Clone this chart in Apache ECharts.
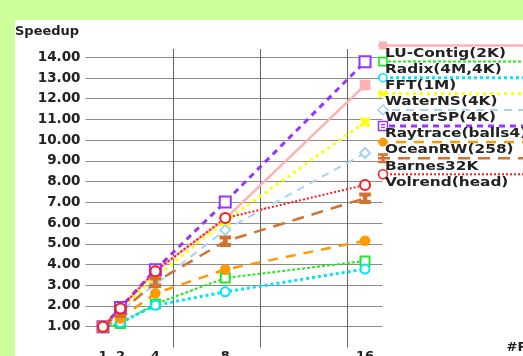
<!DOCTYPE html>
<html>
<head>
<meta charset="utf-8">
<script src="https://cdn.jsdelivr.net/npm/echarts@6/dist/echarts.min.js"></script>
<style>
  html, body { margin: 0; padding: 0; width: 523px; height: 356px; background: #ccff99; overflow: hidden; }
  #chart { position: absolute; left: 15px; top: 20px; width: 508px; height: 336px; background: #ffffff; }
</style>
</head>
<body>
<div id="chart"></div>
<script>
// Processor counts (x positions on a linear scale) and speedup per application
const processors = [1, 2, 4, 8, 16];
const xTickLabels = [1, 2, 4, 8, 16];

const seriesNames = [
  'LU-Contig(2K)', 'Radix(4M,4K)', 'FFT(1M)', 'WaterNS(4K)', 'WaterSP(4K)',
  'Raytrace(balls4)', 'OceanRW(258)', 'Barnes32K', 'Volrend(head)'
];

const luContig = [1.00, 1.92, 3.70, 6.20, 12.66];
const radix    = [0.95, 1.15, 2.10, 3.35, 4.17];
const fft      = [1.00, 1.20, 2.03, 2.68, 3.78];
const waterNS  = [1.00, 1.85, 3.40, 6.10, 10.87];
const waterSP  = [1.00, 1.75, 3.05, 5.67, 9.38];
const raytrace = [1.00, 1.92, 3.75, 7.02, 13.78];
const oceanRW  = [1.00, 1.40, 2.61, 3.76, 5.15];
const barnes   = [1.00, 1.70, 3.15, 5.12, 7.20];
const volrend  = [1.00, 1.88, 3.68, 6.24, 7.84];

const seriesValues = [luContig, radix, fft, waterNS, waterSP, raytrace, oceanRW, barnes, volrend];

// Marker shapes
const X_PTS = [[0,1.5],[1.5,0],[5,3.5],[8.5,0],[10,1.5],[6.5,5],[10,8.5],[8.5,10],[5,6.5],[1.5,10],[0,8.5],[3.5,5]];
const I_PTS = [[0,0],[10,0],[10,2.5],[6.5,2.5],[6.5,7.5],[10,7.5],[10,10],[0,10],[0,7.5],[3.5,7.5],[3.5,2.5],[0,2.5]];
const toPath = pts => 'path://M' + pts.map(p => p.join(',')).join('L') + 'Z';
const X_MARK = toPath(X_PTS);
const I_BEAM = toPath(I_PTS);

const looks = [
  { color: '#ffb0b0', dash: 'solid', width: 2.5, symbol: 'rect',         size: 9 },
  { color: '#22e822', dash: [3, 2],  width: 2,   symbol: 'emptyRect',    size: 9 },
  { color: '#00e5ff', dash: [3, 3],  width: 3,   symbol: 'emptyCircle',  size: 9 },
  { color: '#ffff00', dash: [3, 4],  width: 3,   symbol: X_MARK,         size: 9 },
  { color: '#a8d4ec', dash: [8, 6],  width: 2,   symbol: 'emptyDiamond', size: 10 },
  { color: '#9933ff', dash: [6, 5],  width: 3,   symbol: 'emptyRect',    size: 11 },
  { color: '#ff9900', dash: [10, 8], width: 2.5, symbol: 'circle',       size: 9 },
  { color: '#d2722e', dash: [12, 8], width: 2.5, symbol: I_BEAM,         size: 10 },
  { color: '#ff1a1a', dash: [2, 2],  width: 2,   symbol: 'emptyCircle',  size: 10 }
];

const FONT = 'DejaVu Sans';
const TEXT_COLOR = '#222';

const series = seriesNames.map((name, i) => ({
  name: name,
  type: 'line',
  data: processors.map((p, k) => [p, seriesValues[i][k]]),
  symbol: looks[i].symbol,
  symbolSize: looks[i].size,
  showAllSymbol: true,
  lineStyle: { color: looks[i].color, width: looks[i].width, type: looks[i].dash },
  itemStyle: { color: looks[i].color, borderColor: looks[i].color, borderWidth: 1.6 },
  emphasis: { disabled: true },
  animation: false
}));

// Legend drawn as lines with the label over them
function shift(pts, x, y, s) {
  return pts.map(p => [x + (p[0] - 5) * s, y + (p[1] - 5) * s]);
}
function legendMarker(i, x, y) {
  const c = looks[i].color;
  switch (i) {
    case 0: return [{ type: 'rect', shape: { x: x - 4, y: y - 4, width: 8, height: 8 }, style: { fill: c } }];
    case 1: return [{ type: 'rect', shape: { x: x - 4, y: y - 4, width: 8, height: 8 }, style: { fill: '#fff', stroke: c, lineWidth: 1.6 } }];
    case 2: return [{ type: 'circle', shape: { cx: x, cy: y, r: 4 }, style: { fill: '#fff', stroke: c, lineWidth: 1.6 } }];
    case 3: return [{ type: 'polygon', shape: { points: shift(X_PTS, x, y, 0.9) }, style: { fill: c } }];
    case 4: return [{ type: 'polygon', shape: { points: [[x, y - 5], [x + 5, y], [x, y + 5], [x - 5, y]] }, style: { fill: '#fff', stroke: c, lineWidth: 1.6 } }];
    case 5: return [
      { type: 'rect', shape: { x: x - 4.5, y: y - 4.5, width: 9, height: 9 }, style: { fill: '#fff', stroke: c, lineWidth: 1.5 } },
      { type: 'rect', shape: { x: x - 2, y: y - 2, width: 4, height: 1.3 }, style: { fill: c } },
      { type: 'rect', shape: { x: x - 2, y: y + 0.8, width: 4, height: 1.3 }, style: { fill: c } }
    ];
    case 6: return [{ type: 'circle', shape: { cx: x, cy: y, r: 4.5 }, style: { fill: c } }];
    case 7: return [{ type: 'polygon', shape: { points: shift(I_PTS, x, y, 1) }, style: { fill: c } }];
    default: return [{ type: 'circle', shape: { cx: x, cy: y, r: 4.5 }, style: { fill: '#fff', stroke: c, lineWidth: 1.6 } }];
  }
}

const legendGraphics = [];
seriesNames.forEach((name, i) => {
  const y = 25.5 + i * 16.1;
  const d = looks[i].dash;
  legendGraphics.push({
    type: 'line', z: 20,
    shape: { x1: 363, y1: y, x2: 508, y2: y },
    style: { stroke: looks[i].color, lineWidth: looks[i].width, lineDash: d === 'solid' ? null : d }
  });
  legendMarker(i, 368, y).forEach(m => legendGraphics.push(Object.assign({ z: 21 }, m)));
  legendGraphics.push({
    type: 'text', z: 22, x: 370, y: y + 8, scaleX: 1.18,
    style: { text: name, fill: TEXT_COLOR, font: 'bold 13px "' + FONT + '"', verticalAlign: 'middle', align: 'left' }
  });
});

const chart = echarts.init(document.getElementById('chart'), null, { renderer: 'canvas' });
chart.setOption({
  animation: false,
  backgroundColor: '#ffffff',
  title: {
    text: 'Speedup', left: 0, top: 5, padding: 0,
    textStyle: { fontFamily: FONT, fontWeight: 'bold', fontSize: 13, color: TEXT_COLOR }
  },
  grid: { left: 70.5, right: 140.5, top: 29, bottom: 8.6, containLabel: false, outerBoundsMode: 'none' },
  xAxis: {
    type: 'value', min: 0, max: 17, interval: 5,
    name: '#Processors', nameLocation: 'end', nameGap: 124,
    nameTextStyle: { fontFamily: FONT, fontWeight: 'bold', fontSize: 13, color: TEXT_COLOR, padding: [0, 0, 10, 0] },
    axisLine: { show: false }, axisTick: { show: false },
    axisLabel: {
      customValues: xTickLabels, margin: 3,
      fontFamily: FONT, fontWeight: 'bold', fontSize: 13, color: TEXT_COLOR
    },
    splitLine: { show: true, showMinLine: false, showMaxLine: false, lineStyle: { color: '#666', width: 1 } }
  },
  yAxis: {
    type: 'value', min: 0, max: 14.4, interval: 1,
    axisLine: { show: false }, axisTick: { show: false },
    axisLabel: {
      margin: 5, fontFamily: FONT, fontWeight: 'bold', fontSize: 13.5, color: TEXT_COLOR,
      formatter: v => (Number.isInteger(v) && v >= 1 && v <= 14) ? v.toFixed(2) : ''
    },
    splitLine: { show: true, showMinLine: false, showMaxLine: false, lineStyle: { color: '#8c8c8c', width: 1 } }
  },
  series: series,
  graphic: legendGraphics
});
</script>
</body>
</html>
